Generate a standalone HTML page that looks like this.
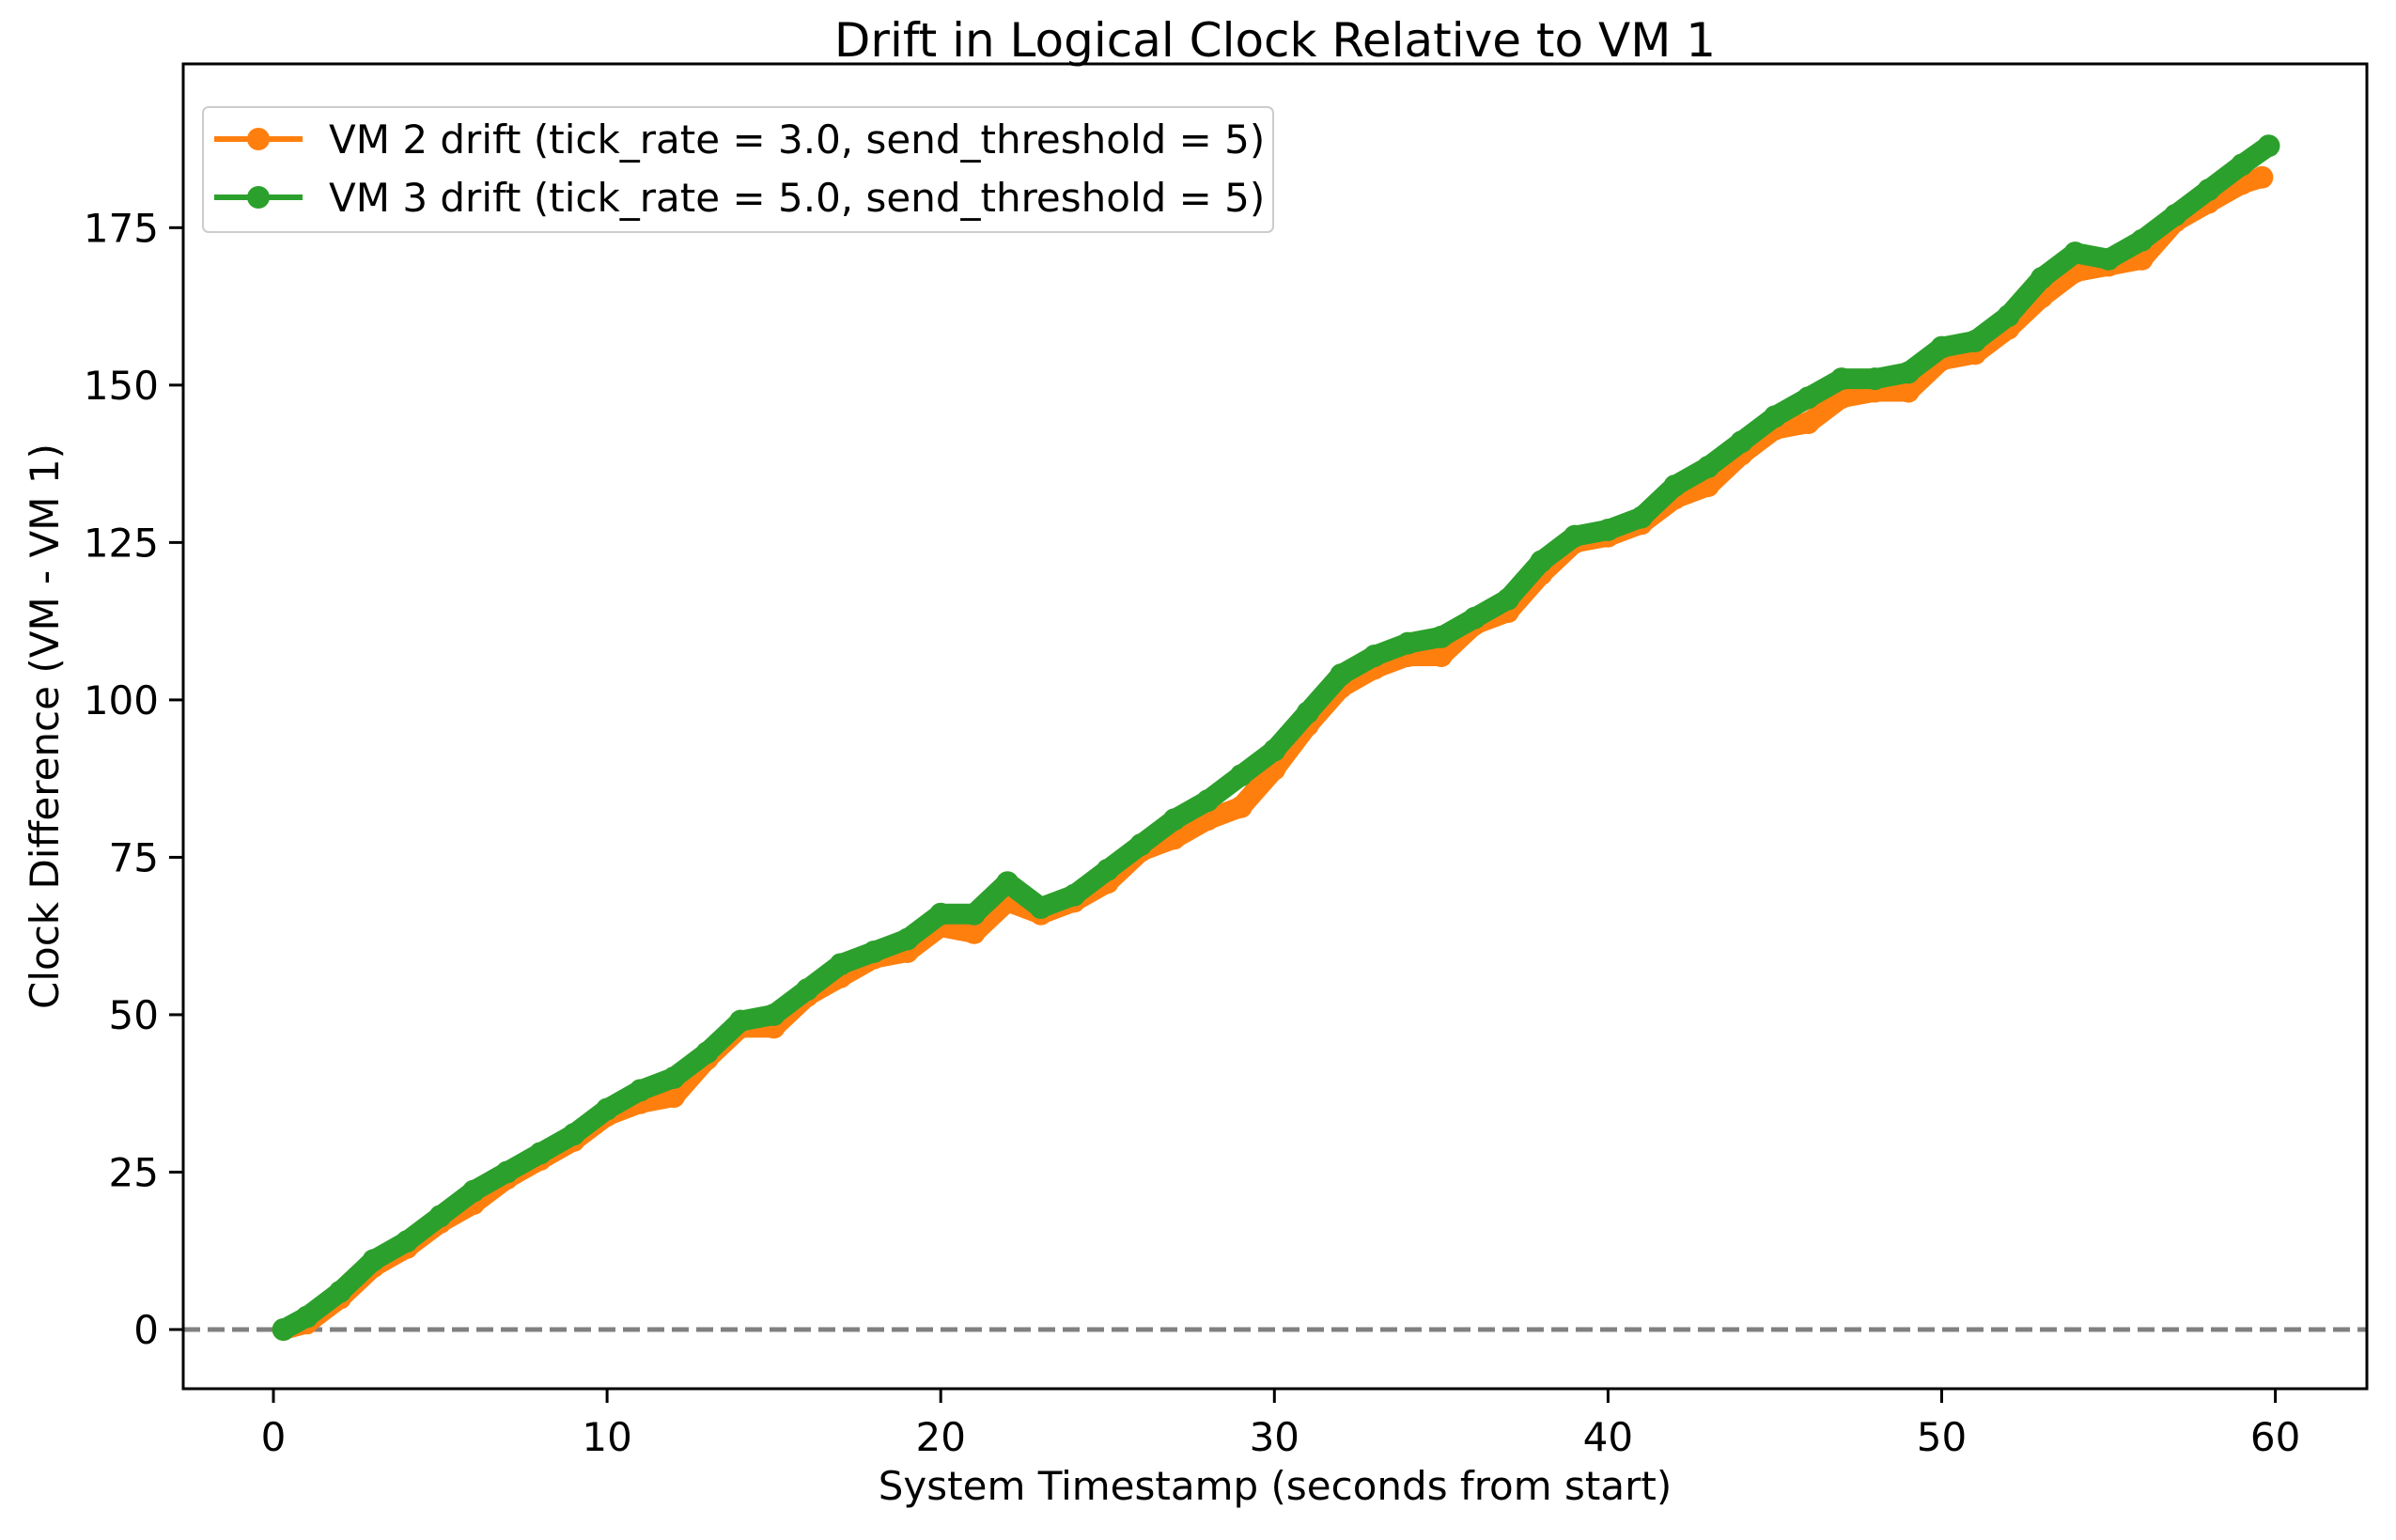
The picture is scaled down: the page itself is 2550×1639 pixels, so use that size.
<!DOCTYPE html>
<html><head><meta charset="utf-8"><style>
body{margin:0;background:#fff;}
svg text{font-family:"DejaVu Sans","Liberation Sans",sans-serif;fill:#000;}
</style></head><body>
<svg id="chart" width="2550" height="1634" xmlns="http://www.w3.org/2000/svg">
<rect width="2550" height="1634" fill="#fff"/>
<g id="plot"></g>
</svg>
<script>
const xs3=[0.3,1,2,3,4,5,6,7,8,9,10,11,12,13,14,15,16,17,18,19,20,21,22,23,24,25,26,27,28,29,30,31,32,33,34,35,36,37,38,39,40,41,42,43,44,45,46,47,48,49,50,51,52,53,54,55,56,57,58,59,59.8];
const vm3=[0,2,6,11,14,18,22,25,28,31,35,38,40,44,49,50,54,58,60,62,66,66,71,67,69,73,77,81,84,88,92,98,104,107,109,110,113,116,122,126,127,129,134,137,141,145,148,151,151,152,156,157,161,167,171,170,173,177,181,185,188];
const xs2=[0.3,1,2,3,4,5,6,7,8,9,10,11,12,13,14,15,16,17,18,19,20,21,22,23,24,25,26,27,28,29,30,31,32,33,34,35,36,37,38,39,40,41,42,43,44,45,46,47,48,49,50,51,52,53,54,55,56,57,58,59,59.6];
const vm2=[0,1,5,10,13,17,20,24,27,30,34,36,37,43,48,48,53,56,59,60,64,63,68,66,68,71,76,78,81,83,89,96,102,105,107,107,112,114,120,125,126,128,132,134,139,143,144,148,149,149,154,155,159,164,168,169,170,176,179,182,183];
const xTicks=[0,10,20,30,40,50,60];
const yTicks=[0,25,50,75,100,125,150,175];
const L=195,R=2519,T=68,B=1478;
const X=v=>291+v*35.51, Y=v=>1415-v*6.701;
const g=document.getElementById('plot');
const NS='http://www.w3.org/2000/svg';
function mk(t,a,txt){const e=document.createElementNS(NS,t);for(const k in a)e.setAttribute(k,a[k]);if(txt!==undefined)e.textContent=txt;g.appendChild(e);return e;}
let e;
e=mk('line',{x1:L,x2:R,y1:Y(0),y2:Y(0),stroke:'#808080','stroke-width':5,'stroke-dasharray':'18,8'});


function series(xs,ys,color,name){
  const pts=xs.map((x,i)=>X(x)+','+Y(ys[i])).join(' ');
  const p=mk('polyline',{points:pts,fill:'none',stroke:color,'stroke-width':22,'stroke-linejoin':'round','stroke-linecap':'round'});
  
  
  xs.forEach((x,i)=>{const c=mk('circle',{cx:X(x),cy:Y(ys[i]),r:12,fill:color});
  
  });
}
series(xs2,vm2,'#ff7f0e','vm2-drift');
series(xs3,vm3,'#2ca02c','vm3-drift');
e=mk('rect',{x:L,y:T,width:R-L,height:B-T,fill:'none',stroke:'#000','stroke-width':3});


xTicks.forEach(v=>{
  e=mk('line',{x1:X(v),x2:X(v),y1:B,y2:B+15,stroke:'#000','stroke-width':3});
  
  
  e=mk('text',{x:X(v),y:B+66,'font-size':42,'text-anchor':'middle'},String(v));
  
  
});
yTicks.forEach(v=>{
  e=mk('line',{x1:L-15,x2:L,y1:Y(v),y2:Y(v),stroke:'#000','stroke-width':3});
  
  
  e=mk('text',{x:L-26,y:Y(v)+15,'font-size':42,'text-anchor':'end'},String(v));
  
  
});
e=mk('text',{x:(L+R)/2,y:60,'font-size':50,'text-anchor':'middle'},'Drift in Logical Clock Relative to VM 1');


e=mk('text',{x:(L+R)/2,y:1596,'font-size':42,'text-anchor':'middle'},'System Timestamp (seconds from start)');


e=mk('text',{x:62,y:(T+B)/2,'font-size':42,'text-anchor':'middle',transform:'rotate(-90 62 '+((T+B)/2)+')'},'Clock Difference (VM - VM 1)');


e=mk('rect',{x:216,y:114,width:1139,height:133,rx:6,fill:'#fff','fill-opacity':0.8,stroke:'#ccc','stroke-width':2});


[['#ff7f0e','VM 2 drift (tick_rate = 3.0, send_threshold = 5)',148],['#2ca02c','VM 3 drift (tick_rate = 5.0, send_threshold = 5)',210]].forEach(([c,t,y])=>{
  e=mk('line',{x1:228,x2:322,y1:y,y2:y,stroke:c,'stroke-width':6});
  
  
  e=mk('circle',{cx:275,cy:y,r:12,fill:c});
  
  
  e=mk('text',{x:350,y:y+15,'font-size':42},t);
  
  
});
</script>
</body></html>
